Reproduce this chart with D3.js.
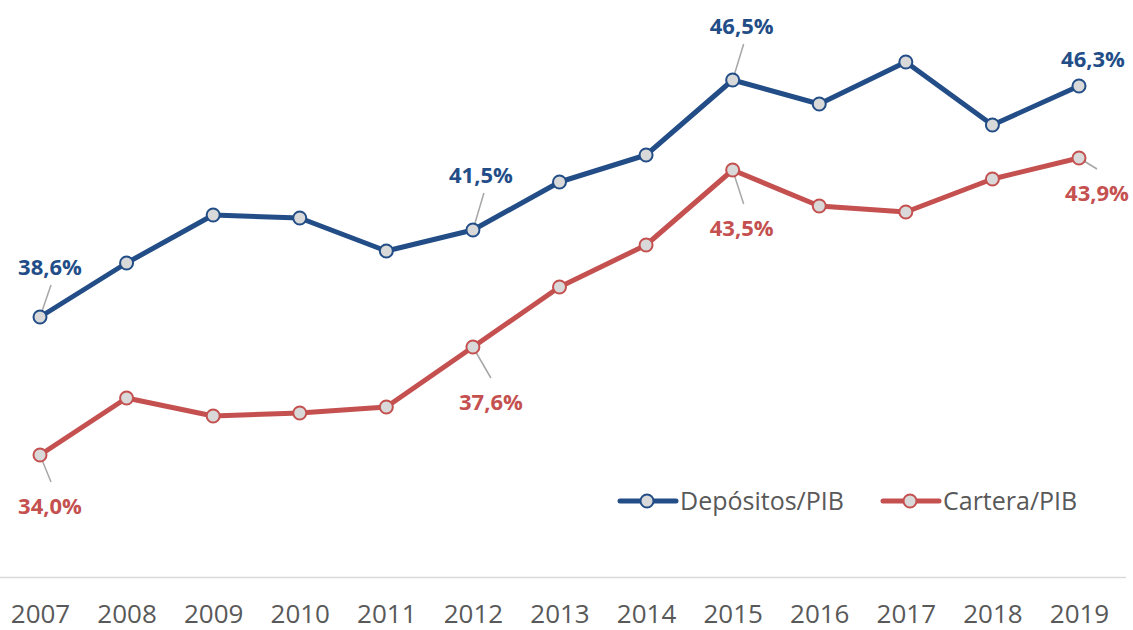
<!DOCTYPE html>
<html>
<head>
<meta charset="utf-8">
<script src="https://cdn.jsdelivr.net/npm/d3@7"></script>
<style>
  body { margin: 0; background: #fff; }
  svg { display: block; }
</style>
</head>
<body>
<div id="chart"></div>
<script>
var years = ["2007", "2008", "2009", "2010", "2011", "2012", "2013", "2014", "2015", "2016", "2017", "2018", "2019"];
var depositos = [38.6, 40.4, 42.0, 41.9, 40.8, 41.5, 43.1, 44.0, 46.5, 45.7, 47.1, 45.0, 46.3];
var cartera = [34.0, 35.9, 35.3, 35.4, 35.6, 37.6, 39.6, 41.0, 43.5, 42.3, 42.1, 43.2, 43.9];
var seriesNames = ["Depósitos/PIB", "Cartera/PIB"];

// labelled points: [index, dx of label, dy of label, leader line?]
var depLabels = [[0, 10, -50, true], [5, 8, -55, true], [8, 9, -54, true], [12, 14, -27, false]];
var carLabels = [[0, 10, 51, true], [5, 18, 55, true], [8, 9, 58, true], [12, 18, 35, true]];

var width = 1133, height = 630;
var blue = "#224D87", red = "#C4504F";

var svg = d3.select("#chart").append("svg")
  .attr("width", width)
  .attr("height", height);

var x = d3.scalePoint().domain(years).range([40, 1079]);
var y = d3.scaleLinear().domain([30, 50]).range([575, -25]);

// baseline
svg.append("line")
  .attr("x1", 0).attr("x2", 1126)
  .attr("y1", 577.5).attr("y2", 577.5)
  .attr("stroke", "#D9D9D9")
  .attr("stroke-width", 1.5);

var xAxis = svg.append("g")
  .attr("transform", "translate(0,577)")
  .call(d3.axisBottom(x).tickSize(0).tickPadding(0));
xAxis.select(".domain").remove();
xAxis.selectAll("text")
  .attr("y", 46)
  .attr("dy", 0)
  .style("font-family", "'Open Sans', sans-serif")
  .style("font-size", "26px")
  .attr("fill", "#595959");

var line = d3.line()
  .x(function (d, i) { return x(years[i]); })
  .y(function (d) { return y(d); });

function drawSeries(data, color, labels) {
  svg.append("path")
    .datum(data)
    .attr("d", line)
    .attr("fill", "none")
    .attr("stroke", color)
    .attr("stroke-width", 5)
    .attr("stroke-linejoin", "round");

  labels.forEach(function (l) {
    var px = x(years[l[0]]), py = y(data[l[0]]);
    if (l[3]) {
      var ly = l[2] < 0 ? py + l[2] + 18 : py + l[2] - 24;
      svg.append("line")
        .attr("x1", px).attr("y1", py)
        .attr("x2", px + (l[1] > 12 ? l[1] : 11)).attr("y2", ly)
        .attr("stroke", "#A6A6A6")
        .attr("stroke-width", 1.5);
    }
  });

  svg.selectAll(null)
    .data(data)
    .enter()
    .append("circle")
    .attr("cx", function (d, i) { return x(years[i]); })
    .attr("cy", function (d) { return y(d); })
    .attr("r", 6.5)
    .attr("fill", "#D9D9D9")
    .attr("stroke", color)
    .attr("stroke-width", 2);

  labels.forEach(function (l) {
    var px = x(years[l[0]]), py = y(data[l[0]]);
    svg.append("text")
      .attr("x", px + l[1])
      .attr("y", py + l[2])
      .attr("dy", "0.35em")
      .attr("text-anchor", "middle")
      .style("font-family", "'Open Sans', sans-serif")
      .style("font-weight", "bold")
      .style("font-size", "22px")
      .attr("fill", color)
      .text(d3.format(".1f")(data[l[0]]).replace(".", ",") + "%");
  });
}

drawSeries(depositos, blue, depLabels);
drawSeries(cartera, red, carLabels);

// legend
var legend = svg.append("g").attr("transform", "translate(620,501)");
var legendItems = [[seriesNames[0], blue, 0], [seriesNames[1], red, 263]];
legendItems.forEach(function (it) {
  var g = legend.append("g").attr("transform", "translate(" + it[2] + ",0)");
  g.append("line")
    .attr("x1", 0).attr("x2", 56)
    .attr("y1", 0).attr("y2", 0)
    .attr("stroke", it[1])
    .attr("stroke-width", 5)
    .attr("stroke-linecap", "round");
  g.append("circle")
    .attr("cx", 27).attr("cy", 0).attr("r", 6.5)
    .attr("fill", "#D9D9D9")
    .attr("stroke", it[1])
    .attr("stroke-width", 2);
  g.append("text")
    .attr("x", 60).attr("y", 0)
    .attr("dy", "0.35em")
    .style("font-family", "'Open Sans', sans-serif")
    .style("font-size", "25px")
    .attr("fill", "#595959")
    .text(it[0]);
});
</script>
</body>
</html>
